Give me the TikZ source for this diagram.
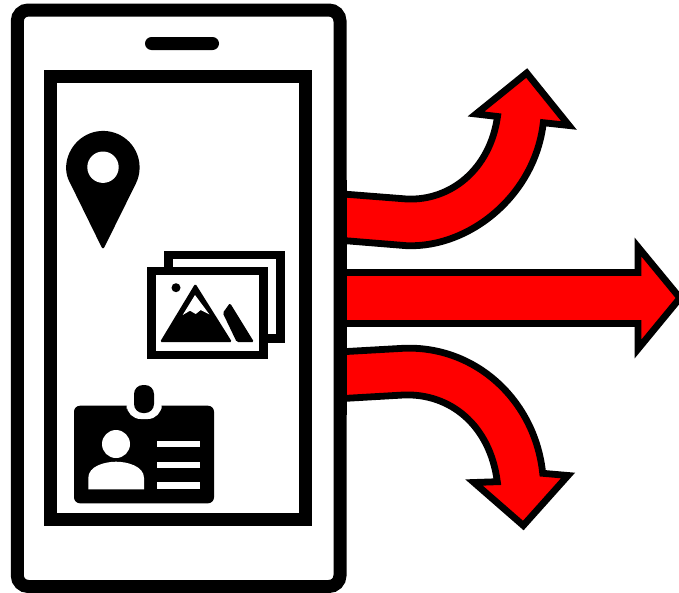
\documentclass[tikz,border=0pt]{standalone}
\usepackage{tikz}

\begin{document}
\begin{tikzpicture}[
    x=1pt,y=-1pt,
    frame/.style={draw=black,line width=13pt},
    photo/.style={draw=black,fill=white,line width=8.7pt},
    flow/.style={draw=black,fill=red,line width=6.8pt,miter limit=10}
]
\clip (0,0) rectangle (679,592);
\fill[white] (0,0) rectangle (679,592);

\draw[frame,rounded corners=11pt] (17.3,10) rectangle (340,586.5);
\draw[frame] (50.8,76.7) rectangle (305.6,519.5);
\fill[rounded corners=6.5pt] (145,37) rectangle (219,50);

\fill (70.6,184) arc[start angle=153,end angle=387,radius=36.5]
      [rounded corners=3pt] -- (103,250) -- cycle;
\fill[white] (103,167.2) circle (15.7);

\draw[photo] (168.6,255) rectangle (280.4,338.5);
\draw[photo] (151.7,271) rectangle (263.8,355);
\fill (176,287.7) circle (4.5);
\fill[rounded corners=1.5pt] (195.3,283.5) -- (232,342) -- (160,342) -- cycle;
\fill[white] (195,295) -- (209.3,314.3) -- (200.7,310) -- (195.7,314) -- (190,310.7) -- (182.7,315) -- cycle;
\fill[rounded corners=1.5pt] (230,303) -- (254,342) -- (236.7,342) -- (222.8,313) -- cycle;

\fill[rounded corners=6pt] (74,405.7) rectangle (214,503.3);
\fill[white,rounded corners=14pt] (126.7,395) rectangle (161.7,419);
\fill[rounded corners=9pt] (134,385) rectangle (154,413);
\fill[white] (116,444) circle (14);
\fill[white] (88.3,489.3) -- (88.3,478) .. controls (88.3,466) and (105,461.7) .. (116,461.7)
      .. controls (127,461.7) and (144,466) .. (144,478) -- (144,489.3) -- cycle;
\foreach \liney in {440.7,461.7,482.4}
    \fill[white] (157.3,\liney) rectangle (199.7,\liney+6.6);

\draw[flow] (343,194) -- (406.7,199) .. controls (450,201) and (490,170) .. (497.5,116.5)
      -- (476,114) -- (526.7,73) -- (569,125.5) -- (543.3,122.7)
      .. controls (535,195) and (470,248) .. (406.7,245.7) -- (343,240.5) -- cycle;
\draw[flow] (343,272.5) -- (638,272.5) -- (638,247) -- (680,298) -- (638,349) -- (638,323.5) -- (343,323.5) -- cycle;
\draw[flow] (343,351.7) -- (403,348.3) .. controls (475,345) and (535,400) .. (542.7,473.3)
      -- (568,475.5) -- (523.3,525.5) -- (474,482.5) -- (497.3,481.7)
      .. controls (490,425) and (450,393) .. (403.3,395) -- (343,398.5) -- cycle;
\draw[line width=13pt] (340,180) -- (340,415);
\end{tikzpicture}
\end{document}
